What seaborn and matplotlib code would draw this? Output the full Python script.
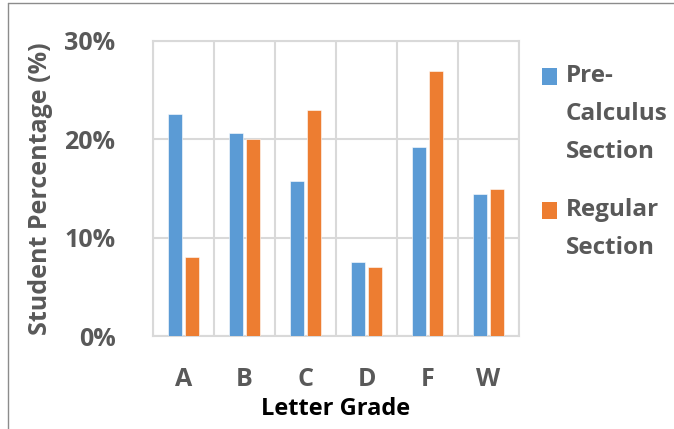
import matplotlib
matplotlib.use("Agg")
import matplotlib.pyplot as plt
from matplotlib.lines import Line2D
from matplotlib.patches import Rectangle
from matplotlib.ticker import PercentFormatter, FixedLocator
import seaborn as sns
import pandas as pd

grades = ["A", "B", "C", "D", "F", "W"]
precalc = [22.6, 20.6, 15.75, 7.5, 19.2, 14.4]
regular = [8.0, 20.0, 22.96, 7.0, 27.0, 15.0]
series_names = ["Pre-\nCalculus\nSection", "Regular\nSection"]
colors = ["#5b9bd5", "#ed7d31"]

df = pd.DataFrame({
    "grade": grades * 2,
    "pct": precalc + regular,
    "section": [series_names[0]] * len(grades) + [series_names[1]] * len(grades),
})

sns.set_theme(style="white")
FONT = ["Open Sans", "DejaVu Sans"]
plt.rcParams["font.family"] = FONT
GRAY = "#595959"

fig = plt.figure(figsize=(6.74, 4.29), dpi=100)
ax = fig.add_axes([153 / 674, 1 - 336 / 429, (519 - 153) / 674, (336 - 41) / 429])

sns.barplot(data=df, x="grade", y="pct", hue="section", palette=colors,
            saturation=1, width=0.57, gap=0.2, edgecolor="white", linewidth=0.4,
            legend=False, ax=ax, zorder=3)

grid_c = "#d9d9d9"
ax.set_ylim(0, 30)
ax.set_xlim(-0.5, len(grades) - 0.5)
ax.yaxis.set_major_locator(FixedLocator([0, 10, 20, 30]))
ax.yaxis.set_major_formatter(PercentFormatter(decimals=0))
ax.xaxis.set_minor_locator(FixedLocator([i - 0.5 for i in range(len(grades) + 1)]))
ax.grid(axis="y", which="major", color=grid_c, linewidth=1.5, zorder=0)
ax.grid(axis="x", which="minor", color=grid_c, linewidth=1.5, zorder=0)
ax.grid(axis="x", which="major", visible=False)
for s in ax.spines.values():
    s.set_color(grid_c)
    s.set_linewidth(1.5)
ax.tick_params(axis="both", which="both", length=0)
ax.tick_params(axis="y", pad=27, labelsize=18, labelcolor=GRAY)
ax.tick_params(axis="x", pad=22, labelsize=18, labelcolor=GRAY)
for lbl in ax.get_xticklabels() + ax.get_yticklabels():
    lbl.set_fontweight("bold")

ax.set_xlabel("Letter Grade", fontsize=17, fontweight="bold", color="black")
ax.xaxis.set_label_coords(0.5, -(409 - 336) / (336 - 41), transform=ax.transAxes)
ax.xaxis.label.set_va("center")
ax.set_ylabel("Student Percentage (%)", fontsize=18, fontweight="bold", color=GRAY)
ax.yaxis.set_label_coords(-(153 - 41) / (519 - 153), 0.5)
ax.yaxis.label.set_va("center")

# legend: colour square aligned with the first line of each entry
fw, fh = 674, 429
entries = [(series_names[0], colors[0], 76), (series_names[1], colors[1], 210)]
for name, col, yc in entries:
    fig.add_artist(Rectangle((542 / fw, 1 - (yc + 8.5) / fh), 15 / fw, 17 / fh,
                             transform=fig.transFigure, facecolor=col,
                             edgecolor="none"))
    fig.text(566 / fw, 1 - (yc - 12) / fh, name, transform=fig.transFigure,
             ha="left", va="top", fontsize=17.5, fontweight="bold", color=GRAY,
             linespacing=1.78)

# outer frame around the figure
fig.add_artist(Line2D([8 / fw, 8 / fw], [0, 1 - 3 / fh], transform=fig.transFigure,
                      color="#8c8c8c", linewidth=1))
fig.add_artist(Line2D([8 / fw, 1], [1 - 3 / fh, 1 - 3 / fh], transform=fig.transFigure,
                      color="#8c8c8c", linewidth=1))

fig.savefig("out.png", dpi=100)
